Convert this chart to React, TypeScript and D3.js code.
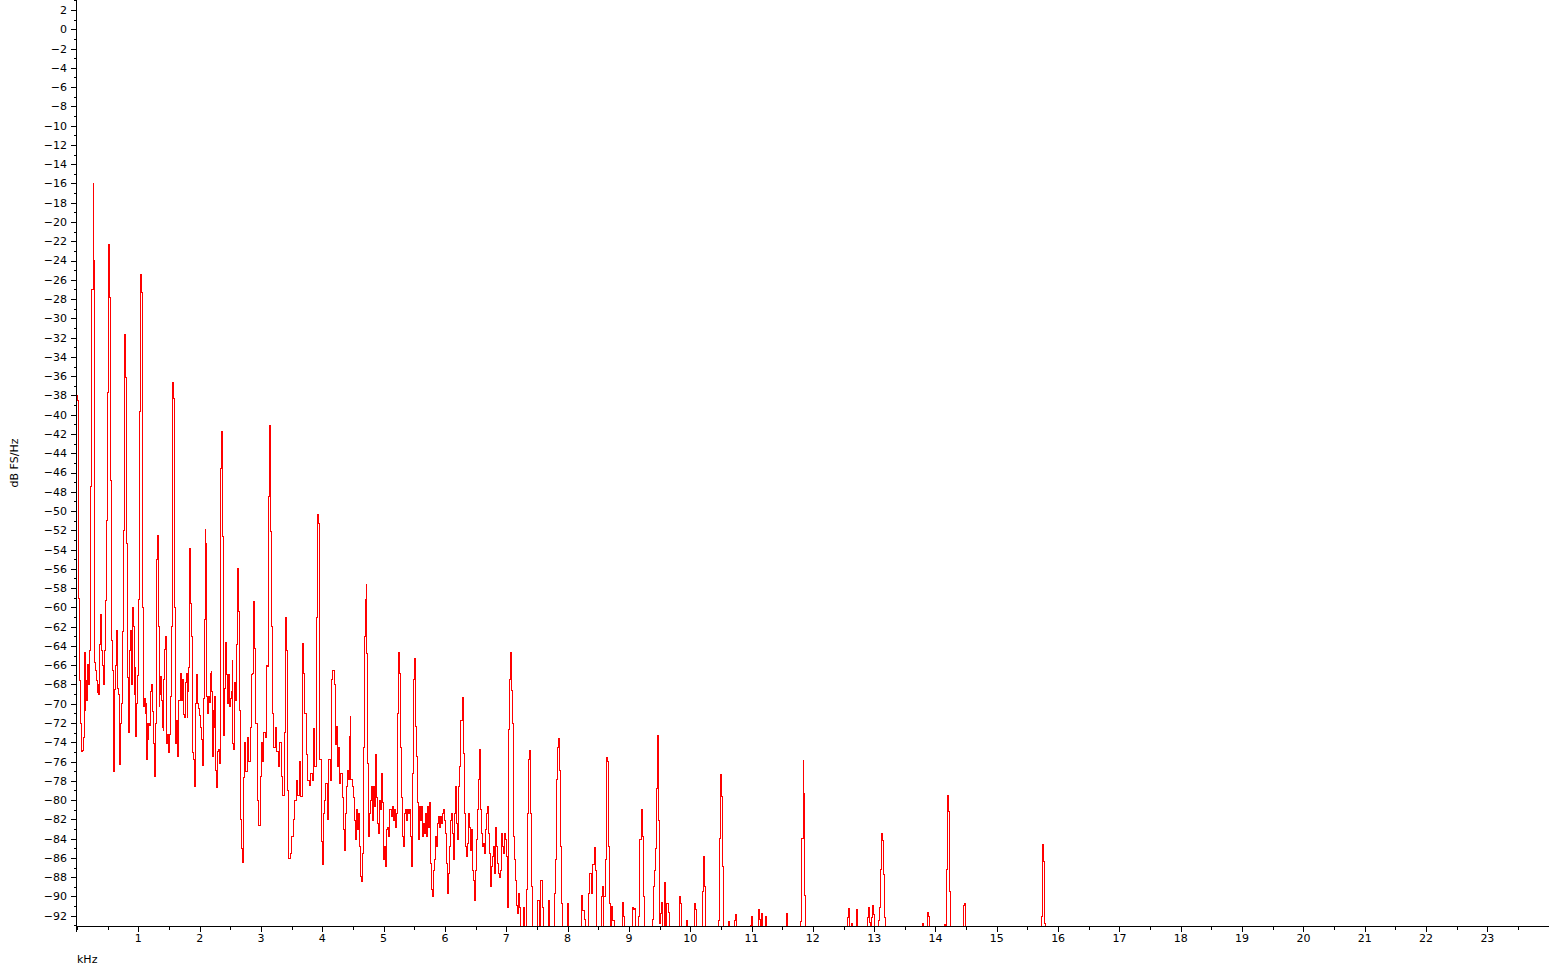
import React from 'react';
import * as d3 from 'd3';

// Spectrum: [frequency kHz, level dB FS/Hz]; -100 marks values below the visible range
const spectrum: [number, number][] = [
  [0.000,-38],[0.011,-38.5],[0.022,-45.3],[0.033,-59.1],[0.049,-67.6],[0.065,-72.1],[0.082,-75],[0.098,-74.9],[0.109,-73.5],[0.125,-64.7],[0.136,-70.7],[0.147,-67.6],[0.158,-69.7],[0.169,-68],[0.185,-65.9],[0.196,-68],[0.207,-64.5],[0.217,-60.7],[0.228,-47.5],[0.245,-27],[0.261,-27],[0.266,-16],[0.277,-24],[0.288,-49],[0.299,-65.7],[0.310,-66.6],[0.321,-67.6],[0.337,-68.8],[0.348,-68],[0.359,-69],[0.370,-67.3],[0.380,-63.8],[0.391,-60.7],[0.402,-62.4],[0.413,-64.5],[0.424,-66],[0.435,-68],[0.446,-67.3],[0.462,-64.5],[0.478,-59.3],[0.494,-51],[0.511,-37.7],[0.527,-22.3],[0.543,-27.8],[0.554,-46.8],[0.565,-55.5],[0.576,-63.4],[0.592,-66.6],[0.609,-77],[0.625,-68.5],[0.641,-66],[0.657,-62.4],[0.674,-68.4],[0.690,-69],[0.707,-76.3],[0.723,-72],[0.739,-70],[0.755,-62.5],[0.772,-52],[0.788,-31.7],[0.804,-36.1],[0.815,-53.4],[0.826,-67.3],[0.843,-73],[0.859,-64.5],[0.875,-62.4],[0.892,-68],[0.908,-60],[0.924,-62],
  [0.941,-69],[0.952,-66.2],[0.962,-73.4],[0.978,-70],[0.990,-67.1],[1.000,-61.3],[1.016,-59.2],[1.033,-39.7],[1.049,-25.4],[1.065,-27.3],[1.076,-60],[1.082,-65.5],[1.098,-70.3],[1.109,-69.5],[1.120,-71],[1.131,-70],[1.142,-75.8],[1.152,-72],[1.163,-73.7],[1.174,-72],[1.190,-72.3],[1.207,-68.7],[1.218,-68],[1.229,-68.2],[1.245,-70.8],[1.261,-74.1],[1.277,-77.6],[1.288,-72],[1.294,-64.8],[1.305,-55],[1.315,-52.5],[1.327,-54],[1.337,-62],[1.348,-70.3],[1.359,-69],[1.376,-67.2],[1.386,-69.7],[1.397,-72.5],[1.413,-72.8],[1.424,-67.5],[1.435,-64.4],[1.446,-63],[1.462,-67.1],[1.473,-74.1],[1.490,-73.2],[1.506,-75.1],[1.522,-73.2],[1.538,-69.2],[1.549,-62],[1.560,-50],[1.571,-36.7],[1.587,-38.3],[1.598,-60],[1.604,-71.7],[1.615,-74.1],[1.625,-71.7],[1.642,-75.5],[1.653,-73.7],[1.669,-69.7],[1.691,-66.9],[1.707,-69.7],[1.723,-67.5],[1.745,-71.1],[1.761,-71.4],[1.778,-67.8],[1.789,-66.9],[1.799,-71.4],[1.816,-68.7],[1.827,-66.2],[1.838,-53.9],[1.854,-59.6],[1.870,-63],[1.881,-65.5],[1.897,-75.1],[1.913,-75.8],[1.924,-78.6],[1.935,-70],[1.952,-67],[1.968,-70],[1.990,-70.5],
  [2.006,-71.2],[2.017,-72.5],[2.033,-73.7],[2.050,-76.4],[2.066,-69.5],[2.082,-61.3],[2.093,-51.9],[2.104,-53.4],[2.115,-62.3],[2.120,-69.2],[2.136,-71],[2.147,-69.2],[2.164,-69.9],[2.180,-66.9],[2.191,-66.7],[2.207,-68.7],[2.218,-75.5],[2.229,-70.7],[2.240,-72.5],[2.256,-69.2],[2.272,-76.9],[2.288,-78.7],[2.299,-75],[2.316,-74.8],[2.327,-76.2],[2.343,-62.3],[2.353,-45.6],[2.370,-41.7],[2.386,-52.6],[2.397,-73.3],[2.408,-68.4],[2.425,-63.6],[2.435,-65.5],[2.446,-67],[2.462,-70],[2.479,-67],[2.490,-70.3],[2.506,-69.5],[2.523,-68.7],[2.533,-65.5],[2.544,-74.1],[2.560,-74.8],[2.577,-67.8],[2.593,-69.7],[2.604,-63.8],[2.615,-62.3],[2.630,-56],[2.647,-60.4],[2.663,-70.7],[2.674,-82],[2.690,-85],[2.707,-86.5],[2.723,-77.7],[2.740,-74],[2.764,-77],[2.789,-73.5],[2.813,-76],[2.838,-72.5],[2.862,-67],[2.875,-66.9],[2.891,-59.4],[2.908,-64.3],[2.927,-72],[2.952,-80],[2.976,-82.6],
  [3.001,-77.5],[3.017,-74],[3.033,-76],[3.058,-73],[3.082,-73.5],[3.106,-66],[3.120,-66.1],[3.136,-48.5],[3.152,-41.1],[3.164,-52.1],[3.180,-62],[3.196,-71],[3.221,-74.5],[3.245,-72.5],[3.270,-75],[3.294,-76.5],[3.319,-74],[3.343,-77.5],[3.368,-79.5],[3.392,-73],[3.413,-61],[3.430,-64.5],[3.449,-79],[3.465,-86.1],[3.490,-85.5],[3.514,-83.8],[3.539,-82],[3.563,-80],[3.588,-78],[3.612,-79.5],[3.637,-76],[3.661,-79.6],[3.690,-63.7],[3.707,-66.9],[3.726,-71],[3.751,-75.3],[3.775,-78],[3.800,-78.5],[3.824,-77.2],[3.849,-78],[3.865,-72.6],[3.889,-76.5],[3.919,-61],[3.935,-50.4],[3.951,-51.3],[3.971,-75.8],[3.991,-84.3],
  [4.004,-86.7],[4.020,-81.4],[4.044,-80],[4.072,-78.3],[4.093,-82],[4.118,-75.8],[4.142,-78],[4.163,-67.5],[4.183,-66.5],[4.203,-68],[4.224,-74.2],[4.235,-72.4],[4.251,-76.5],[4.268,-74.5],[4.289,-78.3],[4.311,-77.2],[4.333,-79.7],[4.349,-83.1],[4.366,-85.2],[4.382,-81.4],[4.398,-78.6],[4.415,-76.9],[4.431,-77.9],[4.447,-73.4],[4.457,-71.3],[4.474,-77.9],[4.496,-78.6],[4.512,-79.7],[4.529,-82.1],[4.545,-84.1],[4.561,-81],[4.578,-83.1],[4.594,-81.4],[4.610,-84.8],[4.627,-87.9],[4.643,-88.5],[4.659,-85.5],[4.676,-74.5],[4.692,-63],[4.708,-59.2],[4.718,-57.6],[4.735,-64.8],[4.751,-76.2],[4.762,-83.8],[4.778,-81.4],[4.794,-80],[4.811,-78.6],[4.827,-82.1],[4.843,-78.6],[4.860,-80.7],[4.876,-75.3],[4.892,-79.7],[4.914,-82.4],[4.930,-83.5],[4.946,-80],[4.963,-81],[4.979,-77.2],[4.995,-80.3],
  [5.012,-86.2],[5.028,-84.8],[5.044,-86.9],[5.061,-83.1],[5.077,-82.8],[5.093,-83.8],[5.115,-81],[5.131,-81.7],[5.148,-80.7],[5.164,-82.1],[5.180,-81],[5.197,-82.8],[5.213,-81.4],[5.229,-73.8],[5.240,-71],[5.251,-64.7],[5.267,-66.9],[5.284,-74.5],[5.300,-79.7],[5.316,-83.8],[5.333,-84.8],[5.349,-81.4],[5.365,-81],[5.382,-82.1],[5.398,-81],[5.414,-81.4],[5.431,-81],[5.447,-83.8],[5.463,-86.9],[5.479,-77.2],[5.496,-67.5],[5.512,-65.3],[5.528,-72.4],[5.545,-75.5],[5.561,-80.2],[5.577,-84.1],[5.594,-80.7],[5.615,-82.1],[5.632,-80.7],[5.648,-83.8],[5.664,-82.4],[5.680,-83.5],[5.697,-81.4],[5.713,-83.8],[5.729,-80.7],[5.746,-82.8],[5.762,-80.3],[5.778,-86.6],[5.794,-89.3],[5.811,-90],[5.827,-87.3],[5.843,-86.2],[5.860,-83.8],[5.876,-84.8],[5.892,-82.4],[5.909,-81.7],[5.925,-82.8],[5.941,-81.7],[5.958,-82.4],[5.974,-81.4],[5.990,-81],
  [6.006,-82.1],[6.023,-83.5],[6.039,-86.6],[6.055,-89.7],[6.072,-87.6],[6.088,-84.8],[6.104,-82.1],[6.121,-81.4],[6.137,-83.5],[6.153,-86.2],[6.169,-81.4],[6.186,-78.6],[6.202,-82.4],[6.218,-84.1],[6.235,-78.6],[6.251,-76.5],[6.267,-71.7],[6.284,-71.7],[6.300,-69.3],[6.316,-75.2],[6.333,-81.4],[6.349,-84.8],[6.365,-85.9],[6.382,-84.5],[6.398,-81.4],[6.414,-82.8],[6.430,-85.2],[6.447,-83.1],[6.463,-87.3],[6.479,-88.3],[6.496,-90.4],[6.512,-87.3],[6.528,-84.1],[6.545,-81],[6.561,-77.9],[6.577,-74.8],[6.594,-81],[6.610,-83.5],[6.626,-84.8],[6.643,-84.5],[6.659,-85.5],[6.675,-83.1],[6.691,-81.4],[6.708,-80.7],[6.724,-83.5],[6.740,-85.5],[6.757,-89],[6.773,-86.9],[6.789,-85.9],[6.805,-84.8],[6.822,-87.6],[6.838,-82.8],[6.854,-84.8],[6.871,-86.6],[6.887,-87.6],[6.903,-88],[6.920,-87.3],[6.936,-83.5],[6.952,-84.8],[6.969,-85.5],[6.985,-83.5],
  [7.001,-84.1],[7.017,-85.9],[7.034,-91.1],[7.050,-72.7],[7.066,-67.5],[7.083,-64.7],[7.099,-68.6],[7.115,-72],[7.132,-83.8],[7.148,-86.2],[7.164,-88.3],[7.181,-90.9],[7.197,-91.8],[7.213,-89.7],[7.230,-91.1],[7.246,-100],[7.268,-100],[7.290,-91.1],[7.311,-100],[7.339,-89.3],[7.355,-81.4],[7.377,-75.8],[7.393,-74.9],[7.409,-81.4],[7.426,-89],[7.442,-100],[7.496,-100],[7.529,-90.4],[7.550,-100],[7.578,-88.3],[7.594,-91.1],[7.616,-100],[7.686,-100],[7.702,-90.4],[7.719,-100],[7.768,-100],[7.790,-89.7],[7.812,-86.2],[7.833,-77.9],[7.850,-74.5],[7.866,-73.6],[7.882,-76.9],[7.899,-84.8],[7.915,-90.7],[7.931,-100],[7.985,-100],[8.002,-90.7],[8.018,-100],
  [8.22,-100],[8.24,-89.9],[8.26,-91.5],[8.28,-92.4],[8.30,-100],[8.34,-100],[8.355,-89.7],[8.376,-87.6],[8.397,-89.7],[8.42,-86.7],[8.447,-84.9],[8.463,-87.3],[8.48,-100],[8.54,-100],[8.556,-90],[8.572,-89],[8.588,-100],[8.60,-90],[8.627,-86.2],[8.643,-75.6],[8.66,-76],[8.676,-84.8],[8.692,-90.7],[8.71,-100],[8.73,-91],[8.75,-92.5],[8.77,-100],
  [8.89,-100],[8.909,-90.6],[8.925,-92.1],[8.94,-100],[9.045,-100],[9.062,-91.1],[9.08,-91.4],[9.10,-91.2],[9.12,-100],[9.155,-100],[9.17,-92.1],[9.192,-84.1],[9.214,-81],[9.23,-83.8],[9.246,-90],[9.26,-100],
  [9.385,-100],[9.399,-92.4],[9.415,-89],[9.432,-87.3],[9.448,-85],[9.464,-78.8],[9.481,-73.3],[9.497,-82.1],[9.513,-92.8],[9.53,-91.8],[9.546,-90.6],[9.562,-100],[9.584,-88.6],[9.60,-100],[9.63,-90.7],[9.647,-91.7],[9.663,-100],
  [9.82,-100],[9.834,-90],[9.85,-90.7],[9.866,-100],[9.93,-100],[9.943,-92.5],[9.96,-100],[10.068,-100],[10.083,-90.7],[10.10,-91.4],[10.116,-100],[10.193,-100],[10.209,-89.5],[10.225,-85.9],[10.241,-89],[10.257,-100],
  [10.459,-100],[10.475,-92.45],[10.491,-84],[10.507,-77.3],[10.523,-79.65],[10.539,-86.9],[10.555,-100],[10.62,-100],[10.638,-92.6],[10.655,-100],[10.72,-100],[10.736,-92.45],[10.752,-91.9],[10.768,-100],
  [10.97,-100],[10.986,-93],[11.014,-92.1],[11.03,-100],[11.10,-100],[11.117,-91.4],[11.133,-92.4],[11.15,-100],[11.166,-91.8],[11.182,-100],[11.22,-100],[11.236,-92.1],[11.252,-100],
  [11.565,-100],[11.58,-91.8],[11.596,-100],[11.796,-100],[11.812,-92.6],[11.834,-84],[11.845,-75.9],[11.861,-79.3],[11.877,-89.95],[11.893,-100],
  [12.563,-100],[12.579,-92.2],[12.595,-91.2],[12.611,-100],[12.628,-100],[12.644,-92.8],[12.66,-100],[12.709,-100],[12.725,-91.4],[12.741,-100],
  [12.884,-100],[12.90,-92.2],[12.916,-91.1],[12.932,-92.7],[12.948,-100],[12.97,-92.2],[12.986,-90.9],[13.002,-91.9],[13.018,-100],
  [13.068,-100],[13.084,-92.5],[13.10,-91.1],[13.117,-87.2],[13.133,-83.5],[13.149,-84.2],[13.166,-87.7],[13.182,-92.2],[13.198,-100],
  [13.785,-100],[13.801,-92.8],[13.817,-100],[13.867,-100],[13.883,-91.7],[13.899,-92.1],[13.915,-100],
  [14.144,-100],[14.16,-92.9],[14.177,-100],[14.193,-87.2],[14.209,-79.5],[14.226,-81.2],[14.242,-89.5],[14.258,-100],
  [14.454,-100],[14.47,-90.9],[14.486,-90.7],[14.502,-100],
  [15.726,-100],[15.742,-92.1],[15.758,-84.6],[15.775,-86.4],[15.791,-92.8],[15.807,-100],
  [24,-100],
];

const xTickValues = [1,2,3,4,5,6,7,8,9,10,11,12,13,14,15,16,17,18,19,20,21,22,23];
const xMinorValues = d3.range(0, 24, 0.5);
const yTickValues = d3.range(2, -93, -2);
const yMinorValues = d3.range(3, -94, -1);
const xTitle = 'kHz';
const yTitle = 'dB FS/Hz';

const W = 1549;
const H = 965;
const FONT = '"DejaVu Sans", Verdana, sans-serif';

export default function App() {
  const x = d3.scaleLinear().domain([0, 24]).range([77, 1548.7]);
  const y = d3.scaleLinear().domain([-93.14, 3.04]).range([926.7, 0]);
  const line = d3
    .line<[number, number]>()
    .x((d) => x(d[0]))
    .y((d) => y(d[1]))
    .curve(d3.curveStep);
  const axisY = 926.5;
  const axisX = 76.5;
  const fmt = (v: number) => (v < 0 ? '\u2212' + Math.abs(v) : String(v));

  return (
    <svg
      width={W}
      height={H}
      style={{ position: 'absolute', left: 0, top: 0, background: '#fff' }}
      fontFamily={FONT}
    >
      <defs>
        <clipPath id="plot">
          <rect x={77} y={0} width={W - 77} height={926.7} />
        </clipPath>
      </defs>
      <g clipPath="url(#plot)">
        <path
          d={line(spectrum) || ''}
          fill="none"
          stroke="#ff0000"
          strokeWidth={1}
          shapeRendering="crispEdges"
        />
      </g>
      {/* y axis */}
      <line x1={axisX} x2={axisX} y1={0} y2={927} stroke="#000" strokeWidth={1} shapeRendering="crispEdges" />
      {yMinorValues.map((v) => (
        <line key={'ym' + v} x1={73.5} x2={axisX} y1={Math.round(y(v)) + 0.5} y2={Math.round(y(v)) + 0.5} stroke="#000" shapeRendering="crispEdges" />
      ))}
      {yTickValues.map((v) => (
        <g key={'yt' + v}>
          <line x1={70.5} x2={axisX} y1={Math.round(y(v)) + 0.5} y2={Math.round(y(v)) + 0.5} stroke="#000" shapeRendering="crispEdges" />
          <text x={67} y={y(v)} dy="0.36em" textAnchor="end" fontSize={11} fill="#000">
            {fmt(v)}
          </text>
        </g>
      ))}
      {/* x axis */}
      <line x1={76} x2={W} y1={axisY} y2={axisY} stroke="#000" strokeWidth={1} shapeRendering="crispEdges" />
      {xMinorValues.map((v) => (
        <line key={'xm' + v} x1={Math.round(x(v)) + 0.5} x2={Math.round(x(v)) + 0.5} y1={axisY} y2={axisY + 3} stroke="#000" shapeRendering="crispEdges" />
      ))}
      <line x1={axisX} x2={axisX} y1={axisY} y2={axisY + 5} stroke="#000" shapeRendering="crispEdges" />
      {xTickValues.map((v) => (
        <g key={'xt' + v}>
          <line x1={Math.round(x(v)) + 0.5} x2={Math.round(x(v)) + 0.5} y1={axisY} y2={axisY + 5} stroke="#000" shapeRendering="crispEdges" />
          <text x={x(v)} y={942} textAnchor="middle" fontSize={11} fill="#000">
            {v}
          </text>
        </g>
      ))}
      <text x={77} y={963} fontSize={11} fill="#000">
        {xTitle}
      </text>
      <text transform="translate(18,463) rotate(-90)" textAnchor="middle" fontSize={11} fill="#000">
        {yTitle}
      </text>
    </svg>
  );
}
